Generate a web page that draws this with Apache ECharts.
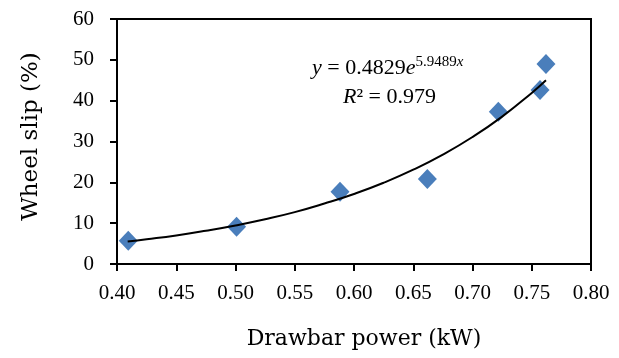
<!DOCTYPE html>
<html>
<head>
<meta charset="utf-8">
<script src="https://cdn.jsdelivr.net/npm/echarts@6/dist/echarts.min.js"></script>
<style>html,body{margin:0;padding:0;background:#fff}#c{width:619px;height:358px}</style>
</head>
<body>
<div id="c"></div>
<script>
// Measured data points (Drawbar power kW, Wheel slip %)
var powerKW = [0.4095, 0.5009, 0.5882, 0.6619, 0.7218, 0.7570, 0.7620];
var slipPct = [5.7, 9.1, 17.7, 20.8, 37.3, 42.6, 49.0];
// Trendline points
var trendX = [0.409, 0.425, 0.45, 0.475, 0.50, 0.525, 0.55, 0.575, 0.60, 0.625, 0.65, 0.675, 0.70, 0.725, 0.75, 0.762];
var trendY = [5.5, 6.05, 7.0, 8.15, 9.45, 10.95, 12.7, 14.8, 17.15, 19.9, 23.1, 26.8, 31.1, 36.1, 41.9, 45.0];
var xTicks = ['0.40','0.45','0.50','0.55','0.60','0.65','0.70','0.75','0.80'];
var yTicks = ['0','10','20','30','40','50','60'];
var xName = 'Drawbar power (kW)';
var yName = 'Wheel slip (%)';

var NFONT = 'DejaVu Serif';
var TFONT = 'Liberation Serif';
var chart = echarts.init(document.getElementById('c'), null, {renderer: 'canvas'});
var pts = powerKW.map(function (x, i) { return [x, slipPct[i]]; });
var trend = trendX.map(function (x, i) { return [x, trendY[i]]; });

chart.setOption({
  animation: false,
  backgroundColor: '#fff',
  grid: {left: 117, right: 28, top: 19, bottom: 94, show: true, borderColor: '#000', borderWidth: 2, backgroundColor: 'transparent'},
  xAxis: {
    type: 'value', min: 0.4, max: 0.8, interval: 0.05,
    name: xName, nameLocation: 'middle', nameGap: 64,
    nameTextStyle: {fontFamily: NFONT, fontSize: 22, color: '#000', padding: [0, 0, 0, 20]},
    axisLine: {onZero: false, lineStyle: {color: '#000', width: 2}},
    axisTick: {show: true, inside: false, length: 7, lineStyle: {color: '#000', width: 2}},
    axisLabel: {margin: 19, fontFamily: TFONT, fontSize: 21, color: '#000',
      formatter: function (v) { var i = Math.round((v - 0.4) / 0.05); return xTicks[i] !== undefined ? xTicks[i] : ''; }},
    splitLine: {show: false}
  },
  yAxis: {
    type: 'value', min: 0, max: 60, interval: 10,
    name: yName, nameLocation: 'middle', nameGap: 74, nameRotate: 90,
    nameTextStyle: {fontFamily: NFONT, fontSize: 23, color: '#000', padding: [0, 0, 0, 10]},
    axisLine: {onZero: false, lineStyle: {color: '#000', width: 2}},
    axisTick: {show: true, inside: false, length: 7, lineStyle: {color: '#000', width: 2}},
    axisLabel: {margin: 23, fontFamily: TFONT, fontSize: 21, color: '#000',
      formatter: function (v) { var i = Math.round(v / 10); return yTicks[i] !== undefined ? yTicks[i] : ''; }},
    splitLine: {show: false}
  },
  series: [
    {
      type: 'line', data: trend, smooth: true, showSymbol: false, symbol: 'none',
      lineStyle: {color: '#000', width: 2}, z: 3, silent: true
    },
    {
      type: 'scatter', data: pts, symbol: 'diamond', symbolSize: [19, 20],
      itemStyle: {color: '#4A7EBB', opacity: 1}, z: 2
    }
  ],
  graphic: [
    {
      type: 'text', left: 312, top: 55,
      style: {
        rich: {
          i: {fontFamily: TFONT, fontStyle: 'italic', fontSize: 22, fill: '#000'},
          n: {fontFamily: TFONT, fontSize: 22, fill: '#000'},
          s: {fontFamily: TFONT, fontSize: 15, fill: '#000', padding: [0, 0, 12, 0]},
          si: {fontFamily: TFONT, fontStyle: 'italic', fontSize: 15, fill: '#000', padding: [0, 0, 12, 0]}
        },
        text: '{i|y}{n| = 0.4829}{i|e}{s|5.9489}{si|x}'
      }
    },
    {
      type: 'text', left: 343, top: 86,
      style: {
        rich: {
          i: {fontFamily: TFONT, fontStyle: 'italic', fontSize: 22, fill: '#000'},
          n: {fontFamily: TFONT, fontSize: 22, fill: '#000'}
        },
        text: '{i|R}{n|² = 0.979}'
      }
    }
  ]
});
</script>
</body>
</html>
